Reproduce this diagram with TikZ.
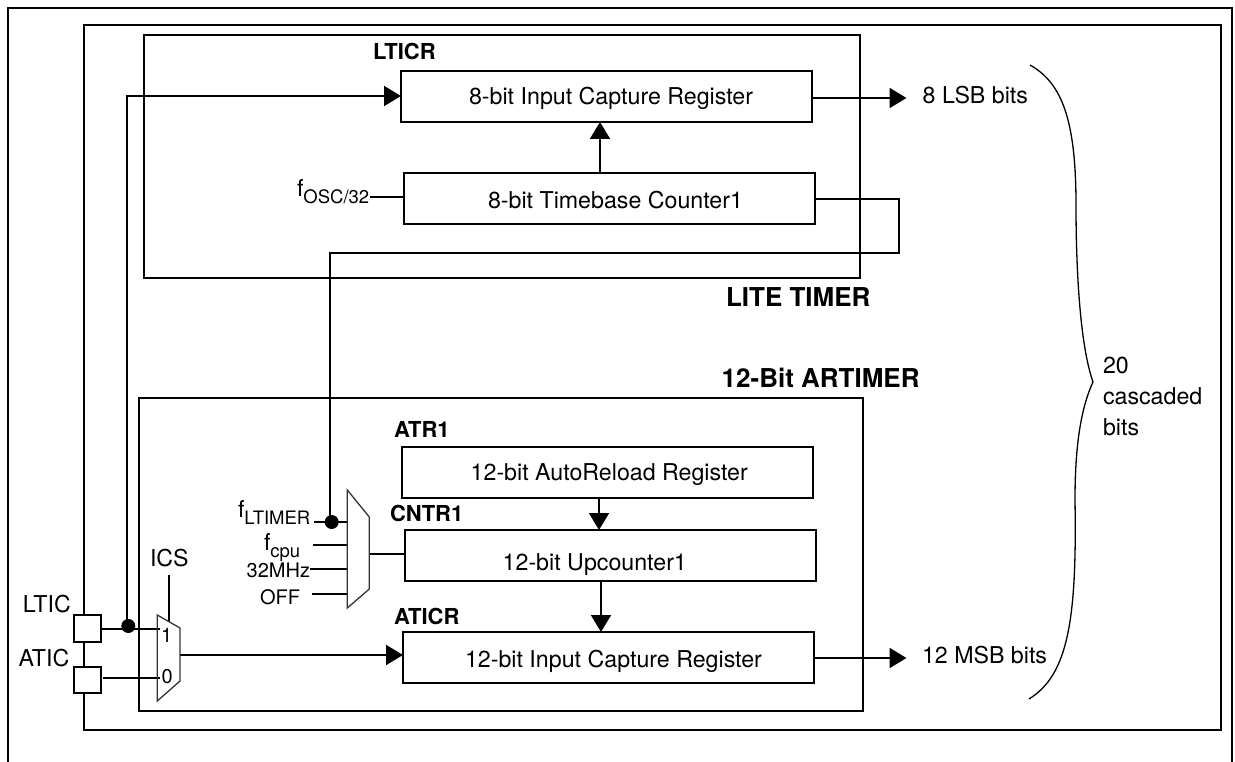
\documentclass[tikz,border=0pt]{standalone}
\usepackage{fontspec}
\setmainfont{TeX Gyre Heros}
\usetikzlibrary{arrows.meta}
\newcommand{\subtxt}[1]{\raisebox{-7pt}{\fontsize{18.5}{18.5}\selectfont #1}}
\tikzset{
  x=1pt,y=-1pt,
  wire/.style={line width=2pt,black},
  thinwire/.style={line width=1.3pt,black},
  midwire/.style={line width=1.8pt,black},
  flow/.style={wire,-{Triangle[length=17pt,width=20pt]}},
  regbox/.style={draw=black,line width=2pt,rectangle,inner sep=0pt,outer sep=0pt},
  pad/.style={regbox,fill=white},
  muxshape/.style={draw=black!80,line width=1.3pt,line join=miter},
  dot/.style={circle,fill=black,inner sep=0pt,outer sep=0pt,minimum size=14pt},
  txt/.style={anchor=base west,inner sep=0pt,outer sep=0pt,text=black,font=\fontsize{23.2}{23.2}\selectfont},
  mid/.style={txt,font=\fontsize{20}{20}\selectfont},
  tag/.style={txt,font=\fontsize{22}{22}\selectfont\bfseries},
  bigtag/.style={txt,font=\fontsize{26}{26}\selectfont\bfseries},
}
\begin{document}
\begin{tikzpicture}
\useasboundingbox (0,0) rectangle (1235,762);
% outer open frame
\coordinate (ol) at (8,762); \coordinate (otl) at (8,8);
\coordinate (otr) at (1232,8); \coordinate (or) at (1232,762);
\draw[wire,line join=miter] (ol) -- (otl) -- (otr) -- (or);
% frames
\node[regbox,minimum width=1137pt,minimum height=705pt] (device) at (652.5,377.5) {};
\node[regbox,minimum width=716pt,minimum height=243pt] (lite) at (502,156.5) {};
\node[regbox,minimum width=724pt,minimum height=313pt] (art) at (501,554.5) {};
% registers
\node[regbox,minimum width=411pt,minimum height=51pt] (lticr) at (606.5,96.5) {};
\node[regbox,minimum width=411pt,minimum height=51pt] (tbc) at (609.5,198.5) {};
\node[regbox,minimum width=411pt,minimum height=51pt] (atr) at (607.5,472.5) {};
\node[regbox,minimum width=411pt,minimum height=51pt] (cntr) at (610.5,555.5) {};
\node[regbox,minimum width=411pt,minimum height=51pt] (aticr) at (608.5,657.5) {};
% pads
\node[pad,minimum width=27pt,minimum height=27pt] (ltic) at (87.5,628.5) {};
\node[pad,minimum width=27pt,minimum height=26pt] (atic) at (87.5,680) {};
% muxes
\coordinate (ma) at (157.3,615); \coordinate (mb) at (180,628);
\coordinate (mc) at (180,681); \coordinate (md) at (157.3,701);
\coordinate (na) at (347.3,490); \coordinate (nb) at (369.3,517);
\coordinate (nc) at (369.3,589); \coordinate (nd) at (347.3,608);
% free wire ends
\coordinate (ltin) at (160,629);
\coordinate (atin) at (160,678);
\coordinate (atstart) at (103,678);
\coordinate (icstop) at (169,575);
\coordinate (icsbot) at (169,621.5);
\coordinate (mout) at (180,655);
\coordinate (nout) at (369.3,554);
\coordinate (ltjoin) at (127,626);
\coordinate (lticin) at (127,96);
\coordinate (lsb) at (906.5,98);
\coordinate (msb) at (906.5,658);
\coordinate (oscw) at (370,197);
\coordinate (tbo) at (815,199);
\coordinate (tbr) at (899,199);
\coordinate (tbb) at (899,253);
\coordinate (tbl) at (330,253);
\coordinate (i0s) at (314,522); \coordinate (i0e) at (347.3,522);
\coordinate (i1s) at (313,545); \coordinate (i1e) at (347.3,545);
\coordinate (i2s) at (310,569); \coordinate (i2e) at (347.3,569);
\coordinate (i3s) at (312,594); \coordinate (i3e) at (347.3,594);
\coordinate (j0) at (330,522);
% wires
\draw[wire] (ltic.east |- ltin) -- (ltin);
\draw[wire] (atstart) -- (atin);
\draw[wire] (icstop) -- (icsbot);
\draw[flow] (ltjoin) -- (lticin) -- (lticr.west |- lticin);
\draw[flow] (mout) -- (aticr.west |- mout);
\draw[flow] (lticr.east |- lsb) -- (lsb);
\draw[flow] (aticr.east |- msb) -- (msb);
\draw[flow] (tbc.north -| 600,0) -- (lticr.south -| 600,0);
\draw[flow] (atr.south -| 599,0) -- (cntr.north -| 599,0);
\draw[flow] (cntr.south -| 601,0) -- (aticr.north -| 601,0);
\draw[wire] (oscw) -- (tbc.west |- oscw);
\draw[wire,line join=miter] (tbo) -- (tbr) -- (tbb) -- (tbl) -- (j0);
\draw[midwire] (i0s) -- (i0e);
\draw[midwire] (i1s) -- (i1e);
\draw[midwire] (i2s) -- (i2e);
\draw[midwire] (i3s) -- (i3e);
\draw[midwire] (nout) -- (cntr.west |- nout);
\node[dot] (dotA) at (128.3,626) {};
\node[dot] (dotB) at (331.7,522) {};
\draw[muxshape] (ma) -- (mb) -- (mc) -- (md) -- cycle;
\draw[muxshape] (na) -- (nb) -- (nc) -- (nd) -- cycle;
% brace
\coordinate (b0) at (1030,65); \coordinate (b1) at (1076,205);
\coordinate (b2) at (1093,382); \coordinate (b3) at (1075,500); \coordinate (b4) at (1029,699);
\draw[thinwire] (b0) .. controls (1062,83) and (1076,120) .. (b1)
  .. controls (1076,270) and (1080,345) .. (b2)
  .. controls (1080,410) and (1075,450) .. (b3)
  .. controls (1077,620) and (1068,675) .. (b4);
% texts
\node[txt] (t1) at (469,105) {8-bit Input Capture Register};
\node[txt] (t2) at (488,209) {8-bit Timebase Counter1};
\node[txt] (t3) at (922.7,103.5) {8 LSB bits};
\node[txt] (t4) at (297,197) {f\subtxt{OSC/32}};
\node[bigtag] (t5) at (726,307) {LITE TIMER};
\node[bigtag] (t6) at (721.7,387) {12-Bit ARTIMER};
\node[tag] (t7) at (373,60) {LTICR};
\node[tag] (t8) at (394,437.7) {ATR1};
\node[txt] (t9) at (470.7,480.7) {12-bit AutoReload Register};
\node[tag] (t10) at (390,521.7) {CNTR1};
\node[txt] (t11) at (502.7,570.7) {12-bit Upcounter1};
\node[tag] (t12) at (394,624.3) {ATICR};
\node[txt] (t13) at (465,667.7) {12-bit Input Capture Register};
\node[txt] (t14) at (922,663) {12 MSB bits};
\node[txt] (t15) at (1103,373) {20};
\node[txt] (t16) at (1103,404) {cascaded};
\node[txt] (t17) at (1103,435.7) {bits};
\node[txt] (t18) at (23,612.3) {LTIC};
\node[txt] (t19) at (18.7,666.7) {ATIC};
\node[txt] (t20) at (150,566.7) {ICS};
\node[mid] (t21) at (161,642) {1};
\node[mid] (t22) at (161.5,683) {0};
\node[txt] (t23) at (238,517) {f\subtxt{LTIMER}};
\node[txt] (t24) at (264,550.7) {f\subtxt{cpu}};
\node[mid] (t25) at (246.7,577.7) {32MHz};
\node[mid] (t26) at (260,604.7) {OFF};
\end{tikzpicture}
\end{document}
